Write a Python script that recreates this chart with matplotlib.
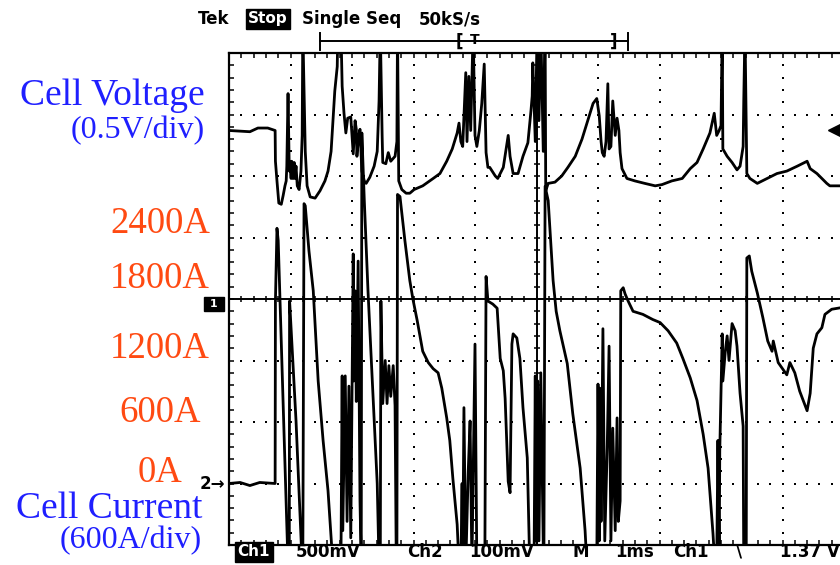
import matplotlib.pyplot as plt
from matplotlib.lines import Line2D
import numpy as np


# Scope settings: 1 ms/div, Ch1 (cell voltage) 0.5 V/div, Ch2 (cell current) 600 A/div
time_v_ms = [0.00, 0.34, 0.47, 0.63, 0.75, 0.755, 0.78, 0.81, 0.85, 0.88,
             0.91, 0.93, 0.94, 0.96, 0.98, 0.99, 1.01, 1.02, 1.04, 1.06,
             1.07, 1.09, 1.11, 1.14, 1.17, 1.19, 1.20, 1.24, 1.27, 1.32,
             1.40, 1.48, 1.56, 1.61, 1.66, 1.69, 1.72, 1.76, 1.77, 1.82,
             1.84, 1.87, 1.90, 1.93, 1.98, 2.02, 2.05, 2.07, 2.08, 2.11,
             2.13, 2.16, 2.20, 2.23, 2.29, 2.36, 2.41, 2.44, 2.46, 2.49,
             2.50, 2.55, 2.59, 2.63, 2.70, 2.73, 2.74, 2.76, 2.81, 2.88,
             2.94, 3.01, 3.15, 3.32, 3.43, 3.54, 3.63, 3.71, 3.74, 3.77,
             3.80, 3.85, 3.87, 3.90, 3.93, 3.97, 4.00, 4.03, 4.07, 4.11,
             4.15, 4.18, 4.21, 4.24, 4.33, 4.37, 4.46, 4.50, 4.54, 4.57,
             4.62, 4.70, 4.78, 4.86, 4.91, 4.93, 4.94, 4.98, 5.01, 5.04,
             5.07, 5.11, 5.14, 5.15, 5.19, 5.30, 5.41, 5.51, 5.63, 5.74,
             5.84, 5.92, 5.98, 6.02, 6.05, 6.07, 6.10, 6.13, 6.16, 6.18,
             6.21, 6.24, 6.28, 6.31, 6.34, 6.36, 6.39, 6.47, 6.60, 6.76,
             6.93, 7.04, 7.20, 7.37, 7.50, 7.61, 7.71, 7.82, 7.89, 7.92,
             7.93, 7.97, 8.00, 8.02, 8.03, 8.10, 8.18, 8.26, 8.31, 8.36,
             8.37, 8.39, 8.41, 8.42, 8.47, 8.59, 8.75, 8.91, 9.07, 9.24,
             9.40, 9.45, 9.56, 9.72, 9.77, 10.0]
cell_voltage_v = [1.37, 1.36, 1.39, 1.39, 1.37, 1.12, 0.96, 0.78, 0.77, 0.84,
                  0.92, 0.96, 1.08, 1.67, 1.04, 1.12, 0.98, 1.12, 0.98, 1.11,
                  0.98, 1.08, 0.92, 0.89, 1.04, 1.33, 2.2, 1.20, 0.92, 0.83,
                  0.82, 0.88, 0.96, 1.04, 1.20, 1.45, 1.69, 1.89, 2.2, 2.2,
                  1.73, 1.51, 1.35, 1.47, 1.48, 1.18, 1.45, 1.38, 1.16, 1.33,
                  1.38, 1.04, 0.96, 0.94, 0.99, 1.08, 1.20, 1.61, 2.2, 1.33,
                  1.11, 1.10, 1.19, 1.12, 1.16, 1.28, 2.2, 0.96, 0.89, 0.86,
                  0.86, 0.89, 0.92, 0.98, 1.02, 1.12, 1.22, 1.35, 1.43, 1.28,
                  1.24, 1.84, 1.28, 1.81, 1.37, 2.2, 1.33, 1.24, 1.37, 1.59,
                  1.91, 1.19, 1.07, 1.07, 1.00, 0.98, 1.07, 1.20, 1.33, 1.16,
                  1.02, 1.02, 1.16, 1.27, 1.53, 1.65, 1.92, 1.28, 2.2, 1.45,
                  2.2, 1.20, 2.2, 0.88, 0.94, 0.95, 1.00, 1.07, 1.16, 1.30,
                  1.46, 1.59, 1.63, 1.49, 1.28, 1.19, 1.16, 1.28, 1.75, 1.22,
                  1.24, 1.61, 1.33, 1.47, 1.37, 1.19, 1.06, 0.98, 0.96, 0.94,
                  0.92, 0.93, 0.96, 0.98, 1.06, 1.11, 1.22, 1.35, 1.51, 1.37,
                  1.33, 1.37, 1.41, 2.2, 1.22, 1.16, 1.11, 1.05, 1.08, 1.24,
                  1.61, 2.2, 1.37, 1.02, 0.98, 0.94, 0.98, 1.02, 1.04, 1.08,
                  1.12, 1.06, 1.02, 0.94, 0.92, 0.92]

time_i_ms = [0.00, 0.18, 0.34, 0.50, 0.75, 0.755, 0.78, 0.80, 0.83, 0.89,
             0.96, 0.98, 0.985, 0.99, 1.09, 1.19, 1.20, 1.22, 1.24, 1.30,
             1.37, 1.45, 1.53, 1.61, 1.69, 1.82, 1.84, 1.85, 1.89, 1.92,
             1.95, 1.98, 2.02, 2.03, 2.05, 2.07, 2.10, 2.13, 2.15, 2.16,
             2.20, 2.26, 2.33, 2.41, 2.44, 2.46, 2.47, 2.50, 2.54, 2.57,
             2.60, 2.63, 2.67, 2.70, 2.72, 2.73, 2.74, 2.78, 2.86, 2.94,
             2.99, 3.06, 3.15, 3.24, 3.32, 3.40, 3.46, 3.54, 3.59, 3.64,
             3.71, 3.74, 3.77, 3.79, 3.80, 3.82, 3.85, 3.89, 3.92, 3.95,
             4.00, 4.03, 4.16, 4.18, 4.21, 4.29, 4.36, 4.41, 4.46, 4.49,
             4.54, 4.57, 4.60, 4.62, 4.68, 4.73, 4.78, 4.85, 4.89, 4.96,
             4.98, 4.99, 5.02, 5.04, 5.07, 5.11, 5.12, 5.14, 5.19, 5.24,
             5.27, 5.32, 5.38, 5.50, 5.59, 5.71, 5.79, 5.82, 5.98, 6.00,
             6.02, 6.03, 6.05, 6.08, 6.11, 6.15, 6.18, 6.21, 6.24, 6.28,
             6.31, 6.33, 6.36, 6.37, 6.41, 6.44, 6.49, 6.57, 6.73, 6.89,
             7.01, 7.14, 7.28, 7.38, 7.50, 7.61, 7.71, 7.79, 7.87, 7.90,
             7.93, 7.95, 7.97, 7.98, 8.02, 8.03, 8.07, 8.10, 8.13, 8.18,
             8.23, 8.26, 8.31, 8.36, 8.37, 8.41, 8.42, 8.46, 8.50, 8.59,
             8.68, 8.76, 8.83, 8.85, 8.93, 9.07, 9.12, 9.20, 9.28, 9.40,
             9.45, 9.50, 9.56, 9.64, 9.69, 9.80, 10.0]
cell_current_a = [0, 10, -20, 10, 0, 1780, 2490, 2370, 1780, 610,
                  -800, -800, 1780, 1730, 610, -800, -800, 2730, 2710, 2270,
                  1880, 1000, 420, -70, -800, -800, 1050, -460, 1050, -370,
                  950, -530, 2240, 1000, 1880, 800, 2170, -170, -800, 3420,
                  2760, 1880, 1000, 0, -800, -800, 1780, 780, 1200, 780,
                  1150, 850, 1150, 760, -800, -800, 2820, 2800, 2370, 1980,
                  1800, 1590, 1290, 1180, 1120, 1080, 930, 640, 420, 50,
                  -400, -800, -800, 0, -800, 740, -800, 120, 610, -800,
                  1360, -800, -800, 2020, 1780, 1750, 1710, 1220, 1100, 830,
                  20, -90, 1360, 1460, 1420, 1220, 740, 250, -800, -800,
                  1050, -560, 1000, -560, 1080, -620, -800, 2900, 2760, 2270,
                  1980, 1680, 1490, 1170, 680, 150, -460, -800, -800, 970,
                  -560, 930, -370, 1510, -560, 350, 1340, -560, 540, -460,
                  640, -370, -170, 1880, 1910, 1850, 1780, 1680, 1650, 1600,
                  1570, 1490, 1370, 1220, 1030, 810, 480, 150, -490, -800,
                  -800, 420, -800, 320, 1460, 1000, 1290, 1440, 1200, 1560,
                  1490, 1340, 880, 560, -800, -800, 2200, 2220, 2070, 1860,
                  1620, 1390, 1290, 1390, 1180, 1060, 1180, 1080, 900, 710,
                  880, 1320, 1460, 1520, 1650, 1700, 1720]

current_labels = ["2400A", "1800A", "1200A", "600A", "0A"]
trigger_level_v = 1.37

W, H = 840, 565
BLUE = "#1f1fff"
ORANGE = "#ff4a12"
SCOPE_FONT = dict(family="DejaVu Sans", weight="bold", color="black")


def fx(px):
  return px / W


def fy(py):
  return 1 - py / H


def draw_screen(fig):
  # 10 x 8 division screen, the right edge runs just past the figure
  ax = fig.add_axes([fx(229), fy(545), 615 / W, 492 / H])
  ax.set_xlim(0, 10)
  ax.set_ylim(-2, 2)

  grid_t = np.arange(0, 10.001, 0.2)
  grid_v = np.arange(-2, 2.001, 0.1)

  # dotted graticule
  for v in [-1.5, -1.0, -0.5, 0.5, 1.0, 1.5]:
    ax.plot(grid_t, np.full_like(grid_t, v), "s", ms=1.7, mew=0, color="k")
  for t in [1, 2, 3, 4, 6, 7, 8, 9]:
    ax.plot(np.full_like(grid_v, t), grid_v, "s", ms=1.7, mew=0, color="k")

  # centre cross with minor ticks
  ax.axhline(0, color="k", lw=1.4)
  ax.axvline(5, color="k", lw=1.4)
  ax.plot(grid_t, np.zeros_like(grid_t), "|", ms=5, mew=1.1, color="k")
  ax.plot(np.full_like(grid_v, 5), grid_v, "_", ms=5, mew=1.1, color="k")

  ax.set_xticks(grid_t)
  ax.set_yticks(grid_v)
  ax.tick_params(direction="in", length=3.5, width=1.1, top=True, bottom=True,
                 left=True, right=False, labelbottom=False, labelleft=False)
  for s in ax.spines.values():
    s.set_linewidth(1.6)

  ax.plot(time_v_ms, cell_voltage_v, color="k", lw=2.0, zorder=5)
  ax.plot(9.84, trigger_level_v, marker="<", ms=8, color="k", clip_on=False)

  ax2 = ax.twinx()
  ax2.set_ylim(-600, 4200)
  ax2.axis("off")
  ax2.plot(time_i_ms, cell_current_a, color="k", lw=2.0, zorder=5)
  return ax


def draw_scope_text(fig):
  # header
  fig.text(fx(198), fy(19), "Tek", fontsize=12, va="center", **SCOPE_FONT)
  fig.text(fx(268), fy(19), "Stop", fontsize=11, va="center", ha="center",
           family="DejaVu Sans", weight="bold", color="white",
           bbox=dict(boxstyle="square,pad=0.15", fc="black", ec="black"))
  fig.text(fx(302), fy(19), "Single Seq", fontsize=12, va="center", **SCOPE_FONT)
  fig.text(fx(419), fy(19), "50kS/s", fontsize=12, va="center", **SCOPE_FONT)

  # record position bar
  line_kw = dict(transform=fig.transFigure, color="k", lw=1.4)
  fig.add_artist(Line2D([fx(320), fx(628)], [fy(41), fy(41)], **line_kw))
  fig.add_artist(Line2D([fx(320), fx(320)], [fy(33), fy(50)], **line_kw))
  fig.add_artist(Line2D([fx(628), fx(628)], [fy(33), fy(50)], **line_kw))
  fig.text(fx(459), fy(42), "[", fontsize=12, va="center", ha="center", **SCOPE_FONT)
  fig.text(fx(475), fy(40), "T", fontsize=10, va="center", ha="center", **SCOPE_FONT)
  fig.text(fx(614), fy(42), "]", fontsize=12, va="center", ha="center", **SCOPE_FONT)

  # channel markers
  fig.text(fx(214), fy(304), " 1 ", fontsize=8, va="center", ha="center",
           family="DejaVu Sans", weight="bold", color="white",
           bbox=dict(boxstyle="square,pad=0.2", fc="black", ec="black"))
  fig.text(fx(212), fy(484), "2\u2192", fontsize=12, va="center", ha="center",
           **SCOPE_FONT)

  # status line
  y = fy(552)
  fig.text(fx(254), y, "Ch1", fontsize=11, va="center", ha="center",
           family="DejaVu Sans", weight="bold", color="white",
           bbox=dict(boxstyle="square,pad=0.15", fc="black", ec="black"))
  fig.text(fx(296), y, "500mV", fontsize=12, va="center", **SCOPE_FONT)
  fig.text(fx(407), y, "Ch2", fontsize=12, va="center", **SCOPE_FONT)
  fig.text(fx(469), y, "100mV", fontsize=12, va="center", **SCOPE_FONT)
  fig.text(fx(573), y, "M", fontsize=12, va="center", **SCOPE_FONT)
  fig.text(fx(615), y, "1ms", fontsize=12, va="center", **SCOPE_FONT)
  fig.text(fx(673), y, "Ch1", fontsize=12, va="center", **SCOPE_FONT)
  fig.text(fx(739), y, "\\", fontsize=12, va="center", ha="center", **SCOPE_FONT)
  fig.text(fx(780), y, f"{trigger_level_v:.2f} V", fontsize=12, va="center",
           **SCOPE_FONT)


def draw_annotations(fig):
  serif = "Liberation Serif"
  fig.text(fx(205), fy(105), "Cell Voltage", fontsize=27, color=BLUE,
           family=serif, ha="right", va="baseline")
  fig.text(fx(205), fy(138), "(0.5V/div)", fontsize=23, color=BLUE,
           family=serif, ha="right", va="baseline")

  baselines = [233, 288, 358, 422, 482]
  for label, py in zip(current_labels, baselines):
    fig.text(fx(160), fy(py), label, fontsize=26.5, color=ORANGE,
             family=serif, ha="center", va="baseline")

  fig.text(fx(202), fy(518), "Cell Current", fontsize=27, color=BLUE,
           family=serif, ha="right", va="baseline")
  fig.text(fx(202), fy(548), "(600A/div)", fontsize=23, color=BLUE,
           family=serif, ha="right", va="baseline")


def main():
  fig = plt.figure(figsize=(W / 100, H / 100), dpi=100)
  draw_screen(fig)
  draw_scope_text(fig)
  draw_annotations(fig)
  fig.savefig("out.png", dpi=100)


if __name__ == "__main__":
  main()
